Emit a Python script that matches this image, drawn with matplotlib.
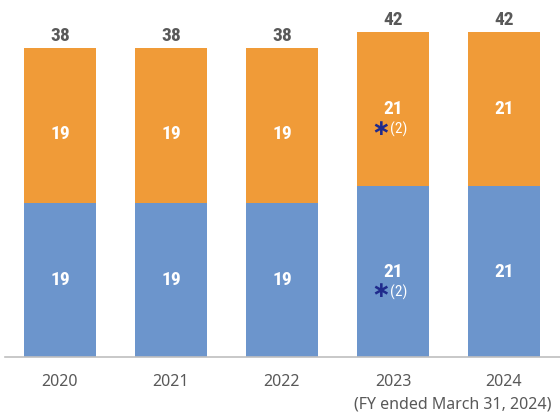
import matplotlib
matplotlib.use("Agg")
from matplotlib import pyplot as plt
from matplotlib import font_manager

# data
years = ["2020", "2021", "2022", "2023", "2024"]
lower = [19, 19, 19, 21, 21]
upper = [19, 19, 19, 21, 21]
upper_height = [19, 19, 19, 19, 19]   # orange segment as drawn in the source
totals = [38, 38, 38, 42, 42]
note = ["", "", "", "(2)", ""]

blue = "#6C95CC"
orange = "#F09B38"
navy = "#1F2A8C"
grey = "#595959"


# narrow font if there is one
def pick(names):
    for n in names:
        try:
            font_manager.findfont(n, fallback_to_default=False)
            return n
        except ValueError:
            pass
    return "DejaVu Sans"


cond = [pick(["Liberation Sans Narrow", "Roboto Condensed", "Roboto"]), "DejaVu Sans"]
plain = ["Noto Sans", "DejaVu Sans"]

f = plt.figure(figsize=(5.6, 4.19), dpi=100)
ax = f.add_axes([5 / 560, 62 / 419, 555 / 560, 357 / 419])

x = list(range(len(years)))
ax.bar(x, lower, width=0.65, color=blue)
ax.bar(x, upper_height, bottom=lower, width=0.65, color=orange)

for i in x:
    top = lower[i] + upper_height[i]
    ax.text(i, top + 0.4, str(totals[i]), ha="center", va="bottom",
            fontsize=14, fontweight="bold", color=grey, family=cond)
    if note[i]:
        ymid_b = lower[i] / 2
        ymid_o = lower[i] + upper_height[i] / 2
        for ym, val in [(ymid_b, lower[i]), (ymid_o, upper[i])]:
            ax.text(i, ym, str(val), ha="center", va="center",
                    fontsize=14, fontweight="bold", color="white", family=cond)
            ax.text(i - 0.03, ym - 2.5, "∗", ha="right", va="center",
                    fontsize=16, fontweight="bold", color=navy, family=plain)
            ax.text(i - 0.03, ym - 2.5, note[i], ha="left", va="center",
                    fontsize=11, color="white", family=cond)
    else:
        ax.text(i, lower[i] / 2, str(lower[i]), ha="center", va="center",
                fontsize=14, fontweight="bold", color="white", family=cond)
        off = 1.1 if upper[i] == upper_height[i] else 0
        ax.text(i, lower[i] + upper_height[i] / 2 - off, str(upper[i]), ha="center", va="center",
                fontsize=14, fontweight="bold", color="white", family=cond)

ax.set_xlim(-0.495, 4.505)
ax.set_ylim(0, 357 / 8.13)
ax.set_xticks(x)
ax.set_xticklabels(years, fontsize=11.5, color=grey, family=plain)
ax.tick_params(axis="x", length=0, pad=12)
ax.set_yticks([])
for s in ["top", "right", "left"]:
    ax.spines[s].set_visible(False)
ax.spines["bottom"].set_color("#BFBFBF")
ax.spines["bottom"].set_linewidth(1.2)

f.text(552 / 560, 1 - 404 / 419, "(FY ended March 31, 2024)", ha="right", va="center",
       fontsize=11.5, color=grey, family=plain)

f.savefig("out.png", dpi=100)
